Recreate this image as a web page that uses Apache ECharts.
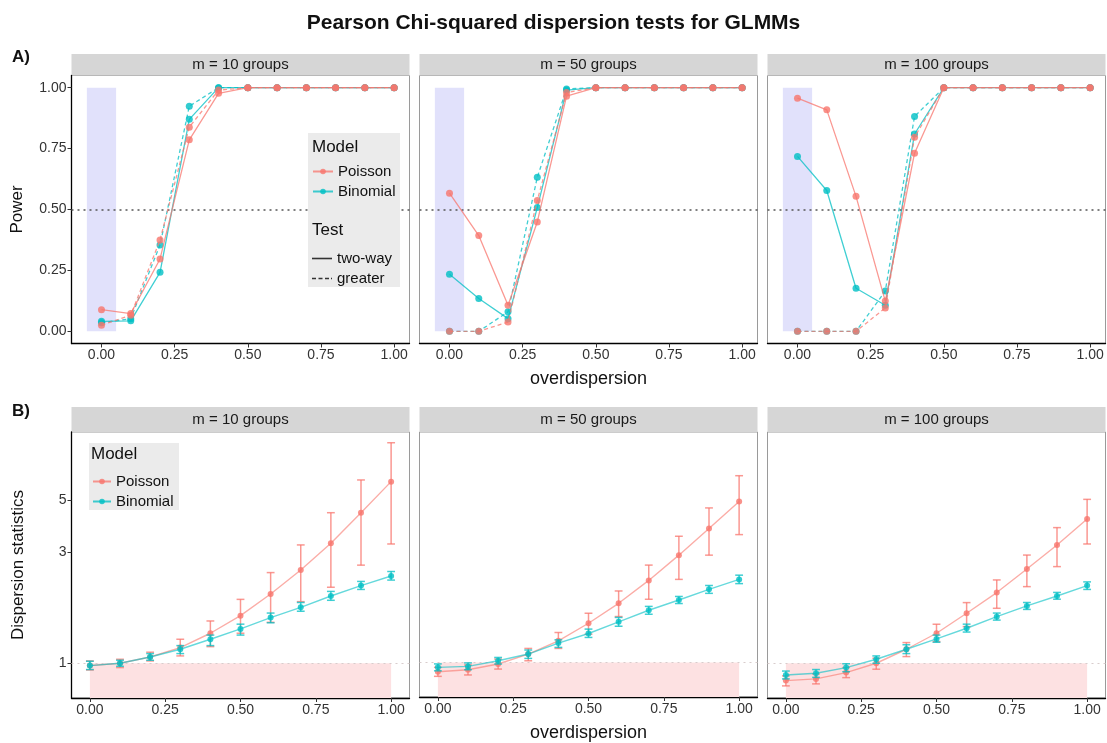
<!DOCTYPE html>
<html><head><meta charset="utf-8">
<script src="https://cdn.jsdelivr.net/npm/echarts@6/dist/echarts.min.js"></script>
<style>html,body{margin:0;padding:0;background:#fff}#c{width:1107px;height:743px}</style>
</head><body><div id="c"></div><script>
// ---------------- data ----------------
const overdisp = [0, 0.1, 0.2, 0.3, 0.4, 0.5, 0.6, 0.7, 0.8, 0.9, 1.0];
const facetLabels = ['m = 10 groups', 'm = 50 groups', 'm = 100 groups'];
const xTickValues = [0, 0.25, 0.5, 0.75, 1];
const powerTickValues = [0, 0.25, 0.5, 0.75, 1];
const dispTickValues = [1, 3, 5];
const nullRegionX = [-0.05, 0.05];   // shaded band in panel A (x range)
const nullRegionY = [0, 1];
const powerRef = 0.5;
const dispRef = 1;

// Panel A: power
const poissonTwoWay10   = [0.089, 0.073, 0.297, 0.786, 0.977, 1, 1, 1, 1, 1, 1];
const poissonGreater10  = [0.025, 0.066, 0.375, 0.838, 0.990, 1, 1, 1, 1, 1, 1];
const binomialTwoWay10  = [0.041, 0.043, 0.242, 0.870, 1.000, 1, 1, 1, 1, 1, 1];
const binomialGreater10 = [0.035, 0.052, 0.354, 0.924, 1.000, 1, 1, 1, 1, 1, 1];

const poissonTwoWay50   = [0.567, 0.393, 0.107, 0.449, 0.965, 1, 1, 1, 1, 1, 1];
const poissonGreater50  = [0.000, 0.000, 0.038, 0.537, 0.980, 1, 1, 1, 1, 1, 1];
const binomialTwoWay50  = [0.234, 0.135, 0.052, 0.508, 0.990, 1, 1, 1, 1, 1, 1];
const binomialGreater50 = [0.000, 0.000, 0.080, 0.632, 0.995, 1, 1, 1, 1, 1, 1];

const poissonTwoWay100   = [0.957, 0.909, 0.554, 0.124, 0.731, 1, 1, 1, 1, 1, 1];
const poissonGreater100  = [0.000, 0.000, 0.000, 0.096, 0.797, 1, 1, 1, 1, 1, 1];
const binomialTwoWay100  = [0.718, 0.578, 0.177, 0.107, 0.810, 1, 1, 1, 1, 1, 1];
const binomialGreater100 = [0.000, 0.000, 0.000, 0.165, 0.882, 1, 1, 1, 1, 1, 1];

// Panel B: dispersion statistics (mean, lower, upper)
const dispPoisson10   = [0.977, 1.000, 1.064, 1.167, 1.344, 1.599, 1.980, 2.508, 3.262, 4.410, 5.990];
const dispPoisson10Lo = [0.936, 0.958, 1.023, 1.075, 1.178, 1.344, 1.497, 1.835, 2.115, 2.630, 3.240];
const dispPoisson10Hi = [1.023, 1.040, 1.115, 1.267, 1.517, 1.877, 2.444, 3.210, 4.410, 6.090, 8.790];
const dispBinomial10   = [0.977, 1.000, 1.064, 1.148, 1.267, 1.403, 1.568, 1.736, 1.940, 2.150, 2.364];
const dispBinomial10Lo = [0.940, 0.970, 1.030, 1.100, 1.190, 1.320, 1.490, 1.670, 1.860, 2.070, 2.270];
const dispBinomial10Hi = [1.020, 1.030, 1.100, 1.190, 1.320, 1.470, 1.640, 1.820, 2.030, 2.240, 2.470];

const dispPoisson50   = [0.912, 0.930, 0.984, 1.086, 1.238, 1.473, 1.794, 2.250, 2.889, 3.757, 4.917];
const dispPoisson50Lo = [0.871, 0.883, 0.936, 1.016, 1.148, 1.322, 1.574, 1.867, 2.273, 2.889, 3.540];
const dispPoisson50Hi = [0.952, 0.974, 1.033, 1.148, 1.344, 1.626, 2.027, 2.618, 3.483, 4.610, 6.340];
const dispBinomial50   = [0.952, 0.961, 1.016, 1.086, 1.210, 1.331, 1.493, 1.675, 1.854, 2.060, 2.273];
const dispBinomial50Lo = [0.920, 0.930, 0.984, 1.040, 1.160, 1.280, 1.430, 1.610, 1.790, 1.980, 2.180];
const dispBinomial50Hi = [0.985, 0.995, 1.050, 1.130, 1.250, 1.390, 1.560, 1.740, 1.920, 2.140, 2.370];

const dispPoisson100   = [0.843, 0.857, 0.912, 1.000, 1.148, 1.344, 1.637, 2.007, 2.533, 3.209, 4.146];
const dispPoisson100Lo = [0.800, 0.816, 0.868, 0.943, 1.068, 1.238, 1.435, 1.719, 2.128, 2.592, 3.240];
const dispPoisson100Hi = [0.883, 0.900, 0.958, 1.050, 1.226, 1.469, 1.818, 2.273, 2.905, 3.807, 5.030];
const dispBinomial100   = [0.891, 0.906, 0.958, 1.040, 1.148, 1.271, 1.412, 1.583, 1.759, 1.940, 2.150];
const dispBinomial100Lo = [0.857, 0.870, 0.920, 1.000, 1.100, 1.230, 1.360, 1.530, 1.700, 1.880, 2.070];
const dispBinomial100Hi = [0.926, 0.940, 0.995, 1.075, 1.200, 1.320, 1.470, 1.640, 1.820, 2.010, 2.230];

// axis ranges
const xRangeA = [-0.1025, 1.0525];
const xRangeB = [-0.061, 1.061];
const yRangeA = [-0.05, 1.05];
const yRangeB = [0.71, 9.77];
const errCapHalf = 0.013;

// ---------------- style / layout ----------------
const FONT = 'Liberation Sans, Arial, sans-serif';
const COL_P = '#F8766D', COL_B = '#00BFC4';
const colLefts = [71.5, 419.5, 767.5];
const colWidth = 338;
const A = { stripTop: 54, stripH: 21.5, top: 75.5, h: 268 };
const B = { stripTop: 407, stripH: 25, top: 432, h: 266 };

const powerSets = [
  [poissonTwoWay10, poissonGreater10, binomialTwoWay10, binomialGreater10],
  [poissonTwoWay50, poissonGreater50, binomialTwoWay50, binomialGreater50],
  [poissonTwoWay100, poissonGreater100, binomialTwoWay100, binomialGreater100]
];
const dispSets = [
  [dispPoisson10, dispPoisson10Lo, dispPoisson10Hi, dispBinomial10, dispBinomial10Lo, dispBinomial10Hi],
  [dispPoisson50, dispPoisson50Lo, dispPoisson50Hi, dispBinomial50, dispBinomial50Lo, dispBinomial50Hi],
  [dispPoisson100, dispPoisson100Lo, dispPoisson100Hi, dispBinomial100, dispBinomial100Lo, dispBinomial100Hi]
];

const grids = [], xAxes = [], yAxes = [], series = [], graphics = [];
const fmt2 = v => v.toFixed(2);

function mkX(idx, range, showName) {
  return {
    type: 'value', gridIndex: idx, min: range[0], max: range[1],
    axisLine: { show: true, onZero: false, lineStyle: { color: '#000', width: 1.3 } },
    axisTick: { show: true, customValues: xTickValues, length: 4, lineStyle: { color: '#333', width: 1 } },
    axisLabel: { customValues: xTickValues, formatter: fmt2, fontSize: 14, color: '#333', margin: 5, fontFamily: FONT },
    splitLine: { show: false },
    name: showName ? 'overdispersion' : '', nameLocation: 'middle', nameGap: 27,
    nameTextStyle: { fontSize: 18, color: '#111', fontFamily: FONT }
  };
}

for (let i = 0; i < 3; i++) {
  // ---- Panel A grid i
  grids.push({ left: colLefts[i], top: A.top, width: colWidth, height: A.h, show: true, borderColor: '#9a9a9a', borderWidth: 1 });
  xAxes.push(mkX(i, xRangeA, i === 1));
  yAxes.push({
    type: 'value', gridIndex: i, min: yRangeA[0], max: yRangeA[1],
    axisLine: { show: i === 0, onZero: false, lineStyle: { color: '#000', width: 1.3 } },
    axisTick: { show: i === 0, customValues: powerTickValues, length: 4, lineStyle: { color: '#333' } },
    axisLabel: { show: i === 0, customValues: powerTickValues, formatter: fmt2, fontSize: 14, color: '#333', margin: 5, fontFamily: FONT },
    splitLine: { show: false },
    name: i === 0 ? 'Power' : '', nameLocation: 'middle', nameGap: 46,
    nameTextStyle: { fontSize: 17, color: '#111', fontFamily: FONT }
  });
  graphics.push({ type: 'rect', shape: { x: colLefts[i], y: A.stripTop, width: colWidth, height: A.stripH }, style: { fill: '#d6d6d6' }, silent: true });
  graphics.push({ type: 'text', x: colLefts[i] + colWidth / 2, y: A.stripTop + A.stripH / 2, style: { text: facetLabels[i], fill: '#1a1a1a', font: '15px ' + FONT, align: 'center', verticalAlign: 'middle' }, silent: true });

  series.push({
    type: 'line', name: 'bgA' + i, xAxisIndex: i, yAxisIndex: i, data: [], silent: true, z: 1,
    markArea: { silent: true, itemStyle: { color: '#e1e1fb' },
      data: [[{ coord: [nullRegionX[0], nullRegionY[0]] }, { coord: [nullRegionX[1], nullRegionY[1]] }]] },
    markLine: { silent: true, symbol: 'none', label: { show: false },
      lineStyle: { type: [2, 4], color: '#555', width: 1.5 }, data: [{ yAxis: powerRef }] }
  });
  const sets = powerSets[i];
  const defs = [
    { name: 'Binomial', arr: sets[2], col: COL_B, dash: 'solid', z: 3 },
    { name: 'Binomial', arr: sets[3], col: COL_B, dash: [4, 3], z: 4 },
    { name: 'Poisson', arr: sets[0], col: COL_P, dash: 'solid', z: 6 },
    { name: 'Poisson', arr: sets[1], col: COL_P, dash: [4, 3], z: 5 }
  ];
  defs.forEach(d => {
    series.push({
      type: 'line', name: d.name, xAxisIndex: i, yAxisIndex: i, z: d.z,
      data: overdisp.map((x, j) => [x, d.arr[j]]),
      symbol: 'circle', symbolSize: 7, showSymbol: true,
      lineStyle: { color: d.col, width: 1.3, type: d.dash, opacity: 0.75 },
      itemStyle: { color: d.col, opacity: 0.8 },
      emphasis: { disabled: true }, animation: false
    });
  });
}

for (let i = 0; i < 3; i++) {
  const g = 3 + i;
  grids.push({ left: colLefts[i], top: B.top, width: colWidth, height: B.h, show: true, borderColor: '#9a9a9a', borderWidth: 1 });
  xAxes.push(mkX(g, xRangeB, i === 1));
  yAxes.push({
    type: 'log', logBase: 10, gridIndex: g, min: yRangeB[0], max: yRangeB[1],
    axisLine: { show: i === 0, onZero: false, lineStyle: { color: '#000', width: 1.3 } },
    axisTick: { show: i === 0, customValues: dispTickValues, length: 4, lineStyle: { color: '#333' } },
    axisLabel: { show: i === 0, customValues: dispTickValues, formatter: v => String(Math.round(v)), fontSize: 14, color: '#333', margin: 5, fontFamily: FONT },
    splitLine: { show: false }, minorTick: { show: false },
    name: i === 0 ? 'Dispersion statistics' : '', nameLocation: 'middle', nameGap: 45,
    nameTextStyle: { fontSize: 17, color: '#111', fontFamily: FONT }
  });
  graphics.push({ type: 'rect', shape: { x: colLefts[i], y: B.stripTop, width: colWidth, height: B.stripH }, style: { fill: '#d6d6d6' }, silent: true });
  graphics.push({ type: 'text', x: colLefts[i] + colWidth / 2, y: B.stripTop + B.stripH / 2, style: { text: facetLabels[i], fill: '#1a1a1a', font: '15px ' + FONT, align: 'center', verticalAlign: 'middle' }, silent: true });

  series.push({
    type: 'line', name: 'bgB' + i, xAxisIndex: g, yAxisIndex: g, data: [], silent: true, z: 1,
    markArea: { silent: true, itemStyle: { color: '#fde1e2' },
      data: [[{ coord: [overdisp[0], yRangeB[0]] }, { coord: [overdisp[overdisp.length - 1], dispRef] }]] },
    markLine: { silent: true, symbol: 'none', label: { show: false },
      lineStyle: { type: [2, 4], color: '#d8cccc', width: 1.2 }, data: [{ yAxis: dispRef }] }
  });
  const s = dispSets[i];
  const defs = [
    { name: 'Poisson', m: s[0], lo: s[1], hi: s[2], col: COL_P },
    { name: 'Binomial', m: s[3], lo: s[4], hi: s[5], col: COL_B }
  ];
  defs.forEach((d, k) => {
    series.push({
      type: 'line', name: d.name, xAxisIndex: g, yAxisIndex: g, z: 3 + k * 2,
      data: overdisp.map((x, j) => [x, d.m[j]]),
      symbol: 'circle', symbolSize: 6,
      lineStyle: { color: d.col, width: 1.4, opacity: 0.6 },
      itemStyle: { color: d.col, opacity: 0.8 },
      emphasis: { disabled: true }, animation: false
    });
    series.push({
      type: 'custom', name: d.name, xAxisIndex: g, yAxisIndex: g, z: 4 + k * 2,
      data: overdisp.map((x, j) => [x, d.lo[j], d.hi[j]]),
      encode: { x: 0, y: [1, 2] },
      renderItem: (params, api) => {
        const x = api.value(0), lo = api.value(1), hi = api.value(2);
        const pLo = api.coord([x, lo]), pHi = api.coord([x, hi]);
        const cL = api.coord([x - errCapHalf, hi])[0], cR = api.coord([x + errCapHalf, hi])[0];
        const st = { stroke: d.col, lineWidth: 1.5, opacity: 0.75 };
        return { type: 'group', children: [
          { type: 'line', shape: { x1: pLo[0], y1: pLo[1], x2: pHi[0], y2: pHi[1] }, style: st },
          { type: 'line', shape: { x1: cL, y1: pHi[1], x2: cR, y2: pHi[1] }, style: st },
          { type: 'line', shape: { x1: cL, y1: pLo[1], x2: cR, y2: pLo[1] }, style: st }
        ] };
      },
      animation: false
    });
  });
}

// dummy series for the Test legend
series.push({ type: 'line', name: 'two-way', xAxisIndex: 0, yAxisIndex: 0, data: [], symbol: 'none', itemStyle: { color: '#333' }, lineStyle: { color: '#333', width: 1.4, type: 'solid' } });
series.push({ type: 'line', name: 'greater', xAxisIndex: 0, yAxisIndex: 0, data: [], symbol: 'none', itemStyle: { color: '#333' }, lineStyle: { color: '#333', width: 1.4, type: [3, 3] } });

// legend backgrounds & titles
graphics.push({ type: 'rect', shape: { x: 308, y: 133, width: 92, height: 154 }, style: { fill: '#ebebeb' }, silent: true, z: 10 });
graphics.push({ type: 'text', x: 312, y: 147, style: { text: 'Model', fill: '#111', font: '17px ' + FONT, verticalAlign: 'middle' }, silent: true, z: 11 });
graphics.push({ type: 'text', x: 312, y: 230, style: { text: 'Test', fill: '#111', font: '17px ' + FONT, verticalAlign: 'middle' }, silent: true, z: 11 });
graphics.push({ type: 'rect', shape: { x: 89, y: 443, width: 90, height: 67 }, style: { fill: '#ebebeb' }, silent: true, z: 10 });
graphics.push({ type: 'text', x: 91, y: 454, style: { text: 'Model', fill: '#111', font: '17px ' + FONT, verticalAlign: 'middle' }, silent: true, z: 11 });
// panel tags
graphics.push({ type: 'text', x: 12, y: 57, style: { text: 'A)', fill: '#111', font: 'bold 17px ' + FONT, verticalAlign: 'middle' } });
graphics.push({ type: 'text', x: 12, y: 411, style: { text: 'B)', fill: '#111', font: 'bold 17px ' + FONT, verticalAlign: 'middle' } });

const legendText = { fontSize: 15, color: '#111', fontFamily: FONT };
const solidIcon = 'path://M0,0H20V1.6H0Z';
const dashIcon = 'path://M0,0H4V1.6H0Z M6.5,0H10.5V1.6H6.5Z M13,0H17V1.6H13Z M19,0H20V1.6H19Z';
const option = {
  animation: false,
  backgroundColor: '#fff',
  title: { text: 'Pearson Chi-squared dispersion tests for GLMMs', left: 'center', top: 8,
    textStyle: { fontSize: 21, fontWeight: 'bold', color: '#111', fontFamily: FONT } },
  grid: grids, xAxis: xAxes, yAxis: yAxes, series: series,
  legend: [
    { data: ['Poisson', 'Binomial'], orient: 'vertical', left: 312, top: 164, itemWidth: 20, itemHeight: 7, itemGap: 5, padding: 0, textStyle: legendText, z: 12, selectedMode: false },
    { data: [{ name: 'two-way', icon: solidIcon }, { name: 'greater', icon: dashIcon }], orient: 'vertical', left: 312, top: 251, itemWidth: 20, itemHeight: 2, itemGap: 5, padding: 0, textStyle: legendText, z: 12, selectedMode: false, itemStyle: { color: '#333' } },
    { data: ['Poisson', 'Binomial'], orient: 'vertical', left: 92, top: 474, itemWidth: 18, itemHeight: 7, itemGap: 5, padding: 0, textStyle: legendText, z: 12, selectedMode: false }
  ],
  graphic: graphics
};
const chart = echarts.init(document.getElementById('c'), null, { renderer: 'canvas' });
chart.setOption(option);
</script></body></html>
